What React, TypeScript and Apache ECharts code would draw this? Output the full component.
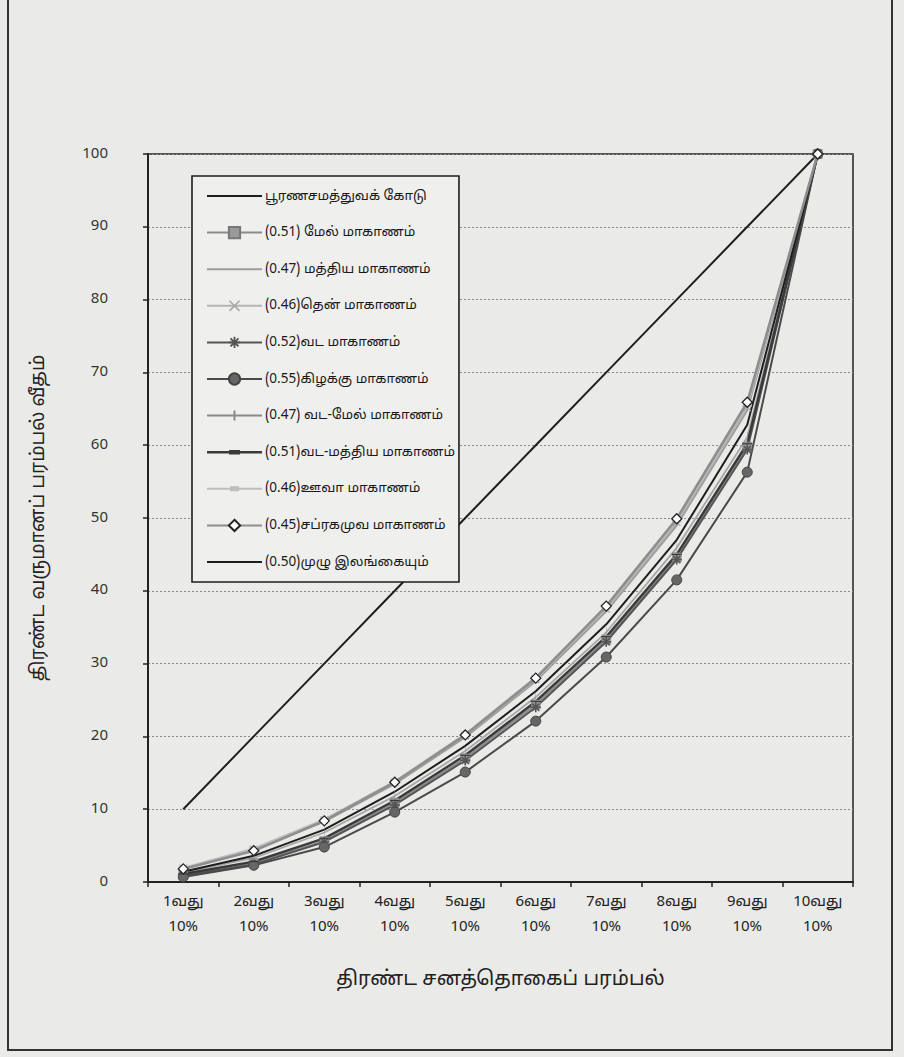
import React, { useEffect, useRef } from "react";
import * as echarts from "echarts";

const categories = ["1வது\n10%", "2வது\n10%", "3வது\n10%", "4வது\n10%", "5வது\n10%", "6வது\n10%", "7வது\n10%", "8வது\n10%", "9வது\n10%", "10வது\n10%"];

const equality = [10, 20, 30, 40, 50, 60, 70, 80, 90, 100];
const western = [1.0, 2.6, 5.6, 10.9, 17.0, 24.4, 33.3, 44.6, 59.8, 100];
const central = [1.8, 4.4, 8.3, 13.5, 19.9, 27.6, 37.2, 49.0, 64.8, 100];
const southern = [1.9, 4.5, 8.5, 13.7, 20.1, 27.8, 37.5, 49.4, 65.2, 100];
const northern = [0.9, 2.4, 5.5, 10.6, 16.7, 24.0, 33.0, 44.3, 59.4, 100];
const eastern = [0.7, 2.3, 4.8, 9.6, 15.1, 22.1, 30.9, 41.5, 56.3, 100];
const northWestern = [1.3, 3.3, 6.8, 11.8, 18.0, 25.4, 34.3, 45.9, 61.1, 100];
const northCentral = [1.1, 2.8, 6.0, 11.2, 17.4, 24.8, 33.7, 45.0, 60.2, 100];
const uva = [1.9, 4.6, 8.6, 13.8, 20.3, 28.1, 37.8, 49.7, 65.6, 100];
const sabaragamuwa = [1.8, 4.3, 8.4, 13.7, 20.2, 28.0, 37.9, 49.9, 65.9, 100];
const wholeCountry = [1.4, 3.6, 7.2, 12.4, 18.7, 26.2, 35.4, 47.0, 62.8, 100];

const seriesNames = [
  "பூரணசமத்துவக் கோடு",
  "(0.51) மேல் மாகாணம்",
  "(0.47) மத்திய மாகாணம்",
  "(0.46)தென் மாகாணம்",
  "(0.52)வட மாகாணம்",
  "(0.55)கிழக்கு மாகாணம்",
  "(0.47) வட-மேல் மாகாணம்",
  "(0.51)வட-மத்திய மாகாணம்",
  "(0.46)ஊவா மாகாணம்",
  "(0.45)சப்ரகமுவ மாகாணம்",
  "(0.50)முழு இலங்கையும்",
];

const yAxisName = "திரண்ட வருமானப் பரம்பல் வீதம்";
const xAxisName = "திரண்ட சனத்தொகைப் பரம்பல்";

const FONT = "'Noto Sans Tamil', 'Liberation Sans', Arial, sans-serif";

const ASTERISK = "path://M4,0h2v3.6l2.6-2.6 1.4,1.4-2.6,2.6h3.6v2h-3.6l2.6,2.6-1.4,1.4-2.6-2.6v3.6h-2v-3.6l-2.6,2.6-1.4-1.4,2.6-2.6h-3.6v-2h3.6l-2.6-2.6 1.4-1.4,2.6,2.6z";
const XMARK = "path://M1,0L5,4L9,0L10,1L6,5L10,9L9,10L5,6L1,10L0,9L4,5L0,1Z";
const VBAR = "path://M0,0h2v10h-2z";
const DASH = "path://M0,0h10v3h-10z";

const ICON_PLAIN = "path://M0,0h55v14h-55z M0,6h55v2h-55z";
const ICON_VBAR = "path://M0,6h55v2h-55z M26.5,2h2v10h-2z";
const ICON_DASH = "path://M0,6h55v2.4h-55z M22,5h11v4.4h-11z";
const ICON_FLATRECT = "path://M0,6h55v2h-55z M23,4.5h9v5h-9z";

export default function App() {
  const ref = useRef<HTMLDivElement>(null);
  useEffect(() => {
    if (!ref.current) return;
    const chart = echarts.init(ref.current, undefined, { renderer: "svg" });
    const mk = (name: string, data: number[], color: string, width: number, symbol: any, symbolSize: any, itemStyle: any, z = 2) => ({
      name,
      type: "line",
      data,
      symbol,
      symbolSize,
      symbolKeepAspect: true,
      showSymbol: symbol !== "none",
      lineStyle: { color, width },
      itemStyle: { color, ...itemStyle },
      z,
    });
    const series = [
      mk(seriesNames[0], equality, "#1e1e1e", 2, "none", 0, {}),
      mk(seriesNames[1], western, "#8c8c8c", 2.2, "rect", 9, { color: "#9a9a9a", borderColor: "#777", borderWidth: 0.5 }),
      mk(seriesNames[2], central, "#9c9c9c", 2.2, "none", 0, {}),
      mk(seriesNames[3], southern, "#b4b4b4", 2, XMARK, 8, { color: "#a8a8a8" }),
      mk(seriesNames[4], northern, "#555555", 2, ASTERISK, 10, { color: "#555" }),
      mk(seriesNames[5], eastern, "#4a4a4a", 2, "circle", 10, { color: "#666", borderColor: "#444", borderWidth: 1 }),
      mk(seriesNames[6], northWestern, "#a6a6a6", 1.8, VBAR, [2, 10], { color: "#8a8a8a" }),
      mk(seriesNames[7], northCentral, "#3a3a3a", 2.4, DASH, [10, 4], { color: "#3a3a3a" }),
      mk(seriesNames[8], uva, "#bdbdbd", 2.2, "rect", [9, 5], { color: "#bdbdbd" }),
      mk(seriesNames[9], sabaragamuwa, "#8e8e8e", 2.6, "diamond", 10, { color: "#ffffff", borderColor: "#222", borderWidth: 1.3 }, 3),
      mk(seriesNames[10], wholeCountry, "#1e1e1e", 2, "none", 0, {}),
    ];
    const plainLine = "path://M0,6h55v2h-55z";
    const icons: Record<number, string> = { 0: plainLine, 2: plainLine, 10: plainLine, 6: ICON_VBAR, 7: ICON_DASH, 8: ICON_FLATRECT };
    const legendData = seriesNames.map((n, i) => (icons[i] ? { name: n, icon: icons[i] } : { name: n }));
    chart.setOption({
      animation: false,
      backgroundColor: "#eaeae8",
      textStyle: { fontFamily: FONT },
      grid: {
        left: 148, right: 51, top: 154, bottom: 175,
        show: true, borderColor: "#222", borderWidth: 1.5, backgroundColor: "transparent",
      },
      legend: {
        orient: "vertical",
        left: 192,
        top: 176,
        itemWidth: 55,
        itemHeight: 14,
        itemGap: 16.6,
        symbolKeepAspect: true,
        padding: [10, 4, 10, 14],
        backgroundColor: "#efefed",
        borderColor: "#1e1e1e",
        borderWidth: 1.6,
        textStyle: { fontFamily: FONT, fontSize: 13.5, color: "#1a1a1a", lineHeight: 20, padding: [0, 0, 0, -2] },
        data: legendData,
      },
      xAxis: {
        type: "category",
        data: categories,
        boundaryGap: true,
        name: xAxisName,
        nameLocation: "middle",
        nameGap: 88,
        nameTextStyle: { fontFamily: FONT, fontSize: 20, color: "#222" },
        axisLine: { lineStyle: { color: "#222", width: 2 } },
        axisTick: { show: true, length: 5, lineStyle: { color: "#222", width: 1.5 } },
        axisLabel: { fontFamily: FONT, fontSize: 15, color: "#222", lineHeight: 25, margin: 8, interval: 0 },
        splitLine: { show: false },
      },
      yAxis: {
        type: "value",
        min: 0,
        max: 100,
        interval: 10,
        name: yAxisName,
        nameLocation: "middle",
        nameGap: 100,
        nameRotate: 90,
        nameTextStyle: { fontFamily: FONT, fontSize: 19, color: "#222" },
        axisLine: { show: true, lineStyle: { color: "#222", width: 2 } },
        axisTick: { show: true, length: 5, lineStyle: { color: "#222", width: 1.5 } },
        axisLabel: { fontFamily: FONT, fontSize: 15, color: "#333", margin: 40 },
        splitLine: { show: true, lineStyle: { color: "#8a8a8a", width: 1, type: [2, 2] } },
      },
      graphic: [
        {
          type: "rect",
          shape: { x: 8, y: -4, width: 884, height: 1054 },
          style: { fill: "none", stroke: "#333", lineWidth: 2 },
          silent: true,
        },
      ],
      series,
    });
    return () => chart.dispose();
  }, []);
  return <div ref={ref} style={{ position: "absolute", left: 0, top: 0, width: 904, height: 1057 }} />;
}
